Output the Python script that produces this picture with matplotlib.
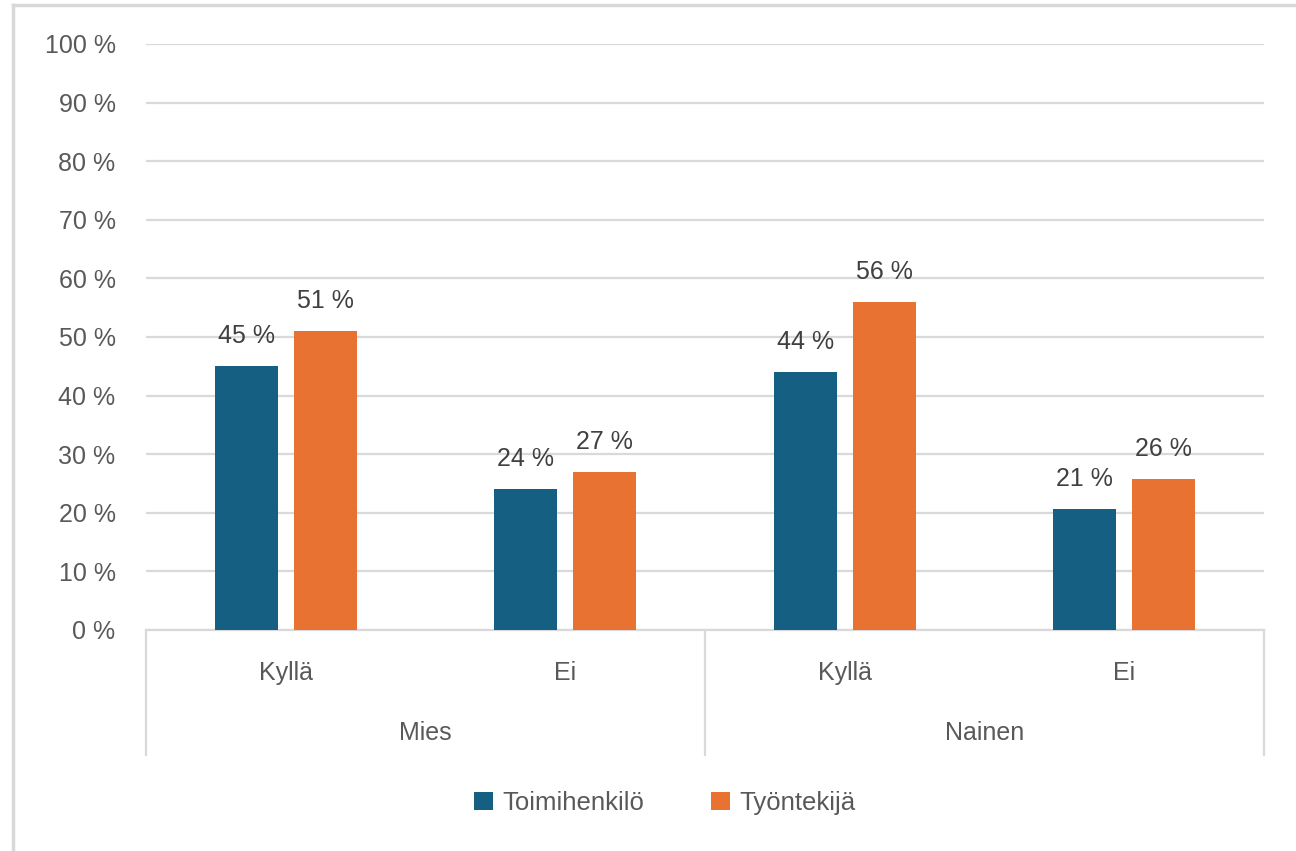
import matplotlib.pyplot as plt
from matplotlib.lines import Line2D
import numpy as np

plt.rcParams['font.family'] = ['Liberation Sans', 'DejaVu Sans']

categories = ["Kyllä", "Ei", "Kyllä", "Ei"]
groups = ["Mies", "Nainen"]
series = ["Toimihenkilö", "Työntekijä"]
toimihenkilo = [45, 24, 44, 20.6]
tyontekija = [51, 27, 56, 25.8]
yticks = [0, 10, 20, 30, 40, 50, 60, 70, 80, 90, 100]

blue = "#155f83"
orange = "#e87231"
grid = "#d9d9d9"
tick_col = "#595959"

fig = plt.figure(figsize=(12.96, 8.51), dpi=100)
ax = fig.add_axes([0.1127, 0.2597, 0.8626, 0.6886])

x = np.arange(len(categories))
w = 0.225
off = 0.141
b1 = ax.bar(x - off, toimihenkilo, w, color=blue, label=series[0], zorder=3)
b2 = ax.bar(x + off, tyontekija, w, color=orange, label=series[1], zorder=3)
for b in (b1, b2):
    ax.bar_label(b, labels=[f"{v:.0f} %" for v in b.datavalues], padding=13,
                 fontsize=18, color="#404040")

ax.set_xlim(-0.5, len(categories) - 0.5)
ax.set_ylim(0, 100)
ax.set_yticks(yticks)
ax.set_yticklabels([f"{t} %" for t in yticks])
ax.tick_params(axis='y', length=0, pad=22, labelsize=18, labelcolor=tick_col)
ax.set_xticks(x)
ax.set_xticklabels(categories)
ax.tick_params(axis='x', length=0, pad=22, labelsize=18, labelcolor=tick_col)
ax.yaxis.grid(True, color=grid, linewidth=1.6, zorder=0)
for s in ("top", "right", "left"):
    ax.spines[s].set_visible(False)
ax.spines["bottom"].set_color(grid)
ax.spines["bottom"].set_linewidth(1.6)

# group level of the category axis
tr = ax.get_xaxis_transform()
for xs in (-0.5, 1.5, 3.5):
    ax.plot([xs, xs], [0, -0.213], transform=tr, color=grid, lw=1.6, clip_on=False)
for i, g in enumerate(groups):
    ax.text(0.5 + 2 * i, -0.175, g, transform=tr, ha="center", va="center",
            fontsize=18, color=tick_col)

fig.legend(loc="center", bbox_to_anchor=(0.513, 0.0564), ncol=2, frameon=False,
           fontsize=18.5, labelcolor=tick_col, handlelength=0.75, handleheight=0.75,
           handletextpad=0.35, columnspacing=2.6)

# chart area border
fig.add_artist(Line2D([0.01, 0.01], [0, 0.994], transform=fig.transFigure, color=grid, lw=2.5))
fig.add_artist(Line2D([0.01, 1.0], [0.994, 0.994], transform=fig.transFigure, color=grid, lw=2.5))

fig.savefig("out.png", dpi=100, facecolor="white")
